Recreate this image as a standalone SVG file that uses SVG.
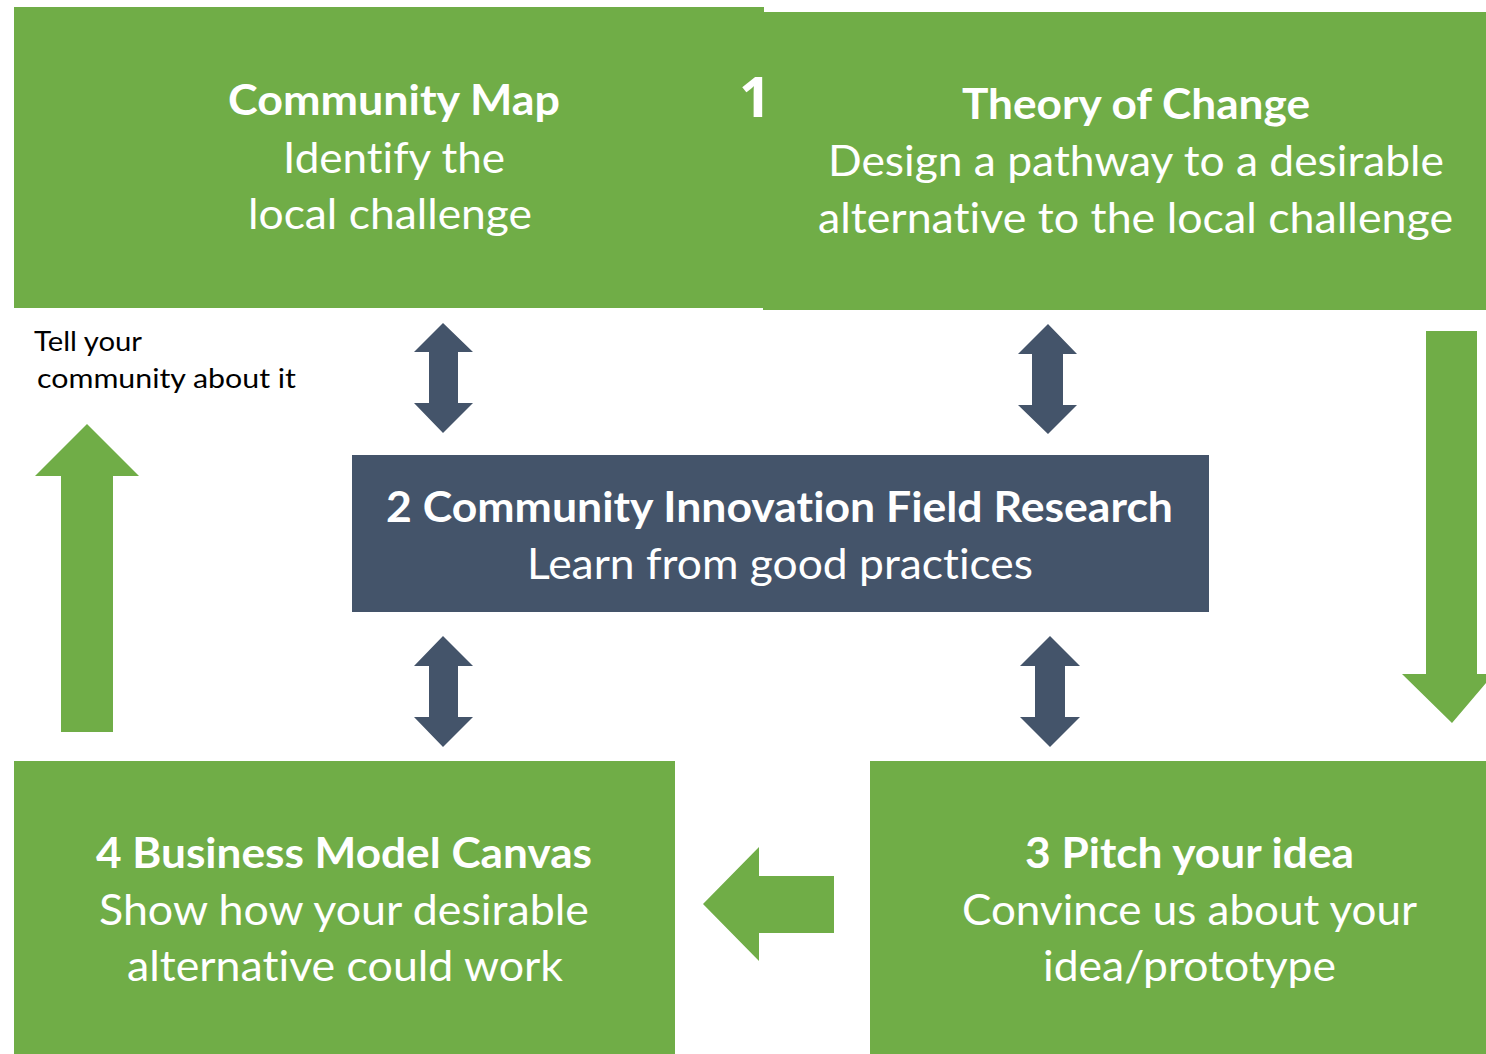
<svg xmlns="http://www.w3.org/2000/svg" width="1486" height="1054" viewBox="0 0 1486 1054">
<style>
.g{fill:#70AD47}
.d{fill:#44546A}
.t{font-family:Lato,"Open Sans","Liberation Sans",sans-serif;fill:#FFFFFF;font-size:42px;font-variant-ligatures:none}
.b{font-weight:bold}
.k{font-family:Lato,"Open Sans","Liberation Sans",sans-serif;fill:#000000;font-size:26px;font-variant-ligatures:none}
.n{font-family:"Open Sans",Lato,"Liberation Sans",sans-serif;fill:#FFFFFF;font-size:56px;font-weight:bold}
</style>
<rect width="1486" height="1054" fill="#FFFFFF"/>
<g id="node-community-map">
<rect class="g" x="14" y="7" width="750" height="301"/>
<text class="t b" x="228" y="115" textLength="332" lengthAdjust="spacingAndGlyphs">Community Map</text>
<text class="t" x="283" y="173" textLength="222" lengthAdjust="spacingAndGlyphs">Identify the</text>
<text class="t" x="248" y="229" textLength="284" lengthAdjust="spacingAndGlyphs">local challenge</text>
</g>
<g id="node-theory-of-change">
<rect class="g" x="763" y="12" width="723" height="298"/>
<text class="t b" x="962" y="119" textLength="348" lengthAdjust="spacingAndGlyphs">Theory of Change</text>
<text class="t" x="828" y="176" textLength="616" lengthAdjust="spacingAndGlyphs">Design a pathway to a desirable</text>
<text class="t" x="818" y="233" textLength="635" lengthAdjust="spacingAndGlyphs">alternative to the local challenge</text>
</g>
<g id="label-1">
<text class="n" x="755" y="117" text-anchor="middle">1</text>
</g>
<g id="node-field-research">
<rect class="d" x="352" y="455" width="857" height="157"/>
<text class="t b" x="386" y="522" textLength="787" lengthAdjust="spacingAndGlyphs">2 Community Innovation Field Research</text>
<text class="t" x="527" y="579" textLength="506" lengthAdjust="spacingAndGlyphs">Learn from good practices</text>
</g>
<g id="node-business-model">
<rect class="g" x="14" y="761" width="661" height="293"/>
<text class="t b" x="96" y="868" textLength="496" lengthAdjust="spacingAndGlyphs">4 Business Model Canvas</text>
<text class="t" x="99" y="925" textLength="490" lengthAdjust="spacingAndGlyphs">Show how your desirable</text>
<text class="t" x="127" y="981" textLength="436" lengthAdjust="spacingAndGlyphs">alternative could work</text>
</g>
<g id="node-pitch">
<rect class="g" x="870" y="761" width="616" height="293"/>
<text class="t b" x="1025" y="868" textLength="329" lengthAdjust="spacingAndGlyphs">3 Pitch your idea</text>
<text class="t" x="962" y="925" textLength="455" lengthAdjust="spacingAndGlyphs">Convince us about your</text>
<text class="t" x="1043" y="981" textLength="293" lengthAdjust="spacingAndGlyphs">idea/prototype</text>
</g>
<g id="label-tell">
<text class="k" x="34" y="351" textLength="108" lengthAdjust="spacingAndGlyphs">Tell your</text>
<text class="k" x="37" y="388" textLength="259" lengthAdjust="spacingAndGlyphs">community about it</text>
</g>
<g id="connectors">
<polygon class="d" points="443,323 473,352 458,352 458,403 473,403 443,433 414,403 429,403 429,352 414,352"/>
<polygon class="d" points="1048,324 1077,354 1063,354 1063,405 1077,405 1048,434 1018,405 1032,405 1032,354 1018,354"/>
<polygon class="d" points="443,636 473,666 458,666 458,717 473,717 443,747 414,717 429,717 429,666 414,666"/>
<polygon class="d" points="1050,636 1080,666 1065,666 1065,717 1080,717 1050,747 1020,717 1035,717 1035,666 1020,666"/>
<polygon class="g" points="87,424 139,476 113,476 113,732 61,732 61,476 35,476"/>
<polygon class="g" points="1426,331 1477,331 1477,674 1486,674 1486,683 1452,723 1402,674 1426,674"/>
<polygon class="g" points="703,904 759,847 759,876 834,876 834,933 759,933 759,961"/>
</g>
</svg>
